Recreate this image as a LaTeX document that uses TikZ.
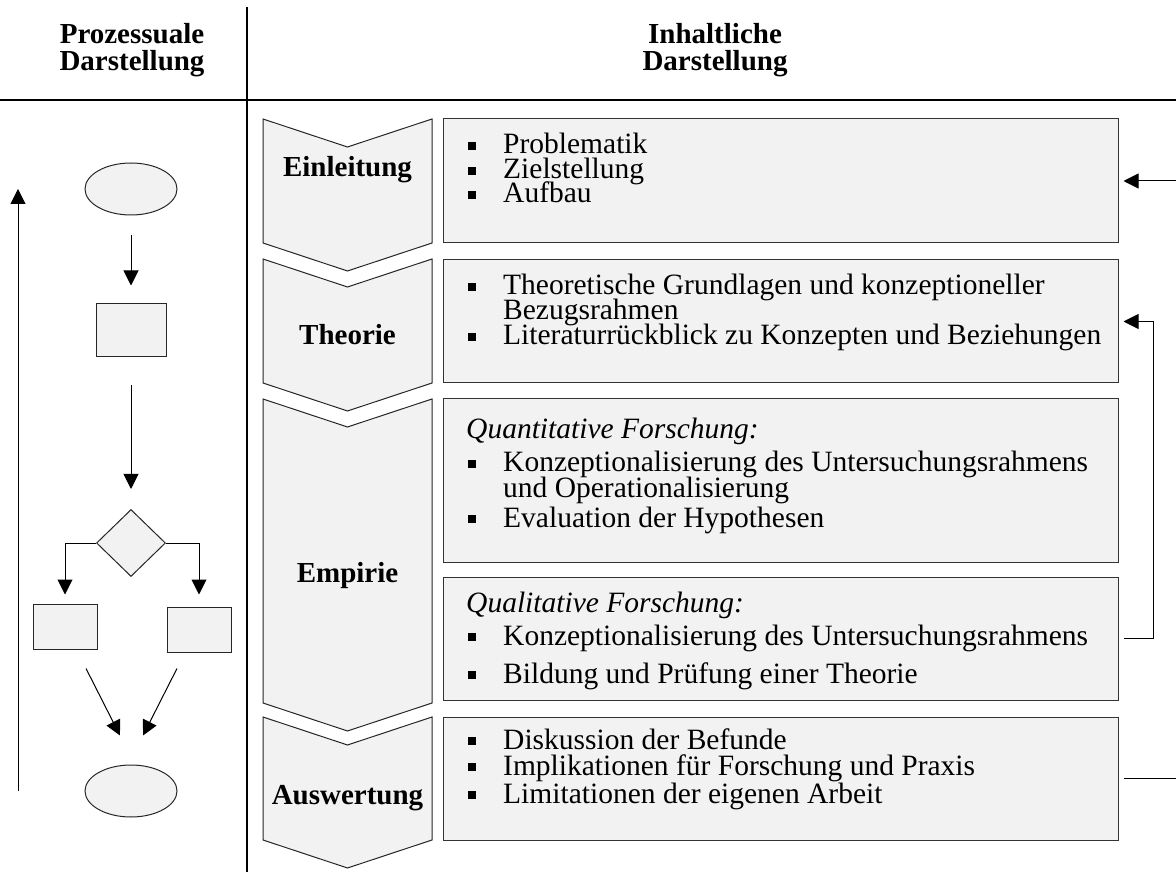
\documentclass[tikz,border=0pt]{standalone}
\usepackage{fontspec}
\setmainfont{Liberation Serif}
\usetikzlibrary{arrows.meta,shapes.geometric,calc,positioning}

\definecolor{boxgray}{HTML}{F2F2F2}

\begin{document}
\begin{tikzpicture}[x=1pt,y=-1pt,
    item/.style={font=\fontsize{29.5}{25}\selectfont, anchor=base west, inner sep=0pt,
      text height=18pt, text depth=5pt},
    head/.style={font=\fontsize{29}{25}\selectfont\bfseries, anchor=base, inner sep=0pt},
    bullet/.style={fill=black, minimum size=7.5pt, inner sep=0pt, yshift=8pt},
    chev/.style={draw=black!85, line width=1pt, fill=boxgray},
    infobox/.style={draw=black!80, line width=1pt, fill=boxgray, minimum width=675pt, inner sep=0pt},
    flowshape/.style={draw=black!85, line width=1pt, fill=boxgray, inner sep=0pt},
    arr/.style={line width=1pt, -{Triangle[length=15pt,width=15pt]}},
    con/.style={line width=1pt}
  ]
  \useasboundingbox (0,0) rectangle (1176,874);

  % header
  \node[head] (h1a) at (132,44) {Prozessuale};
  \node[head] (h1b) at (132,71) {Darstellung};
  \node[head] (h2a) at (715,44) {Inhaltliche};
  \node[head] (h2b) at (715,71) {Darstellung};
  \draw[line width=2pt] (0,100) -- (1176,100);
  \draw[line width=1.5pt] (247,7) -- (247,872);

  % chevrons
  \foreach \ya/\yb in {119/243, 259/383, 399/703, 717/840}
    \draw[chev] (263,\ya) -- (347.5,{\ya+28}) -- (432,\ya) -- (432,\yb)
      -- (347.5,{\yb+28}) -- (263,\yb) -- cycle;
  \node[head] (c1) at (347.5,177) {Einleitung};
  \node[head] (c2) at (347.5,345) {Theorie};
  \node[head] (c3) at (347.5,582) {Empirie};
  \node[head] (c4) at (347.5,804) {Auswertung};

  % content boxes
  \node[infobox, minimum height=124pt] (b1) at (780.5,181) {};
  \node[infobox, minimum height=123pt] (b2) at (780.5,321.5) {};
  \node[infobox, minimum height=163pt] (b3) at (780.5,480.5) {};
  \node[infobox, minimum height=123pt] (b4) at (780.5,638.5) {};
  \node[infobox, minimum height=123pt] (b5) at (780.5,778.5) {};

  \foreach \y [count=\i] in {154,179,203,295,345,472,527,645,683,749,775,803}
    \node[bullet] (dot\i) at (472,\y) {};
  \foreach \x/\y/\lab [count=\i] in {
      503/154/Problematik, 503/179/Zielstellung, 503/203/Aufbau,
      503/295/Theoretische Grundlagen und konzeptioneller,
      503/320/Bezugsrahmen,
      503/345/Literaturrückblick zu Konzepten und Beziehungen,
      466/439/{\itshape Quantitative Forschung:},
      503/472/Konzeptionalisierung des Untersuchungsrahmens,
      503/497/und Operationalisierung,
      503/527/Evaluation der Hypothesen,
      466/612/{\itshape Qualitative Forschung:},
      503/645/Konzeptionalisierung des Untersuchungsrahmens,
      503/683/Bildung und Prüfung einer Theorie,
      503/749/Diskussion der Befunde,
      503/775/Implikationen für Forschung und Praxis,
      503/803/Limitationen der eigenen Arbeit}
    \node[item] (line\i) at (\x,\y) {\lab};

  % feedback connectors
  \coordinate (inlet) at (1176,0);
  \draw[arr, shorten >=5pt] (inlet |- b1.east) -- (b1.east);
  \draw[arr, shorten >=5pt] ([xshift=5pt]b4.east) -- ++(30,0) |- (b2.east);
  \draw[con, shorten <=5pt] (b5.east) -- (inlet |- b5.east);

  % process flow
  \node[flowshape, ellipse, minimum width=92pt, minimum height=52pt] (start) at (131,189) {};
  \node[flowshape, minimum width=70pt, minimum height=53pt] (proc) at (131,330.5) {};
  \node[flowshape, diamond, minimum width=69pt, minimum height=67pt] (dec) at (131,543) {};
  \node[flowshape, minimum width=64pt, minimum height=45pt] (left) at (65,626.5) {};
  \node[flowshape, minimum width=64pt, minimum height=45pt] (right) at (199,629.5) {};
  \node[flowshape, ellipse, minimum width=92pt, minimum height=52pt] (stop) at (131,791) {};

  \draw[arr, shorten <=20pt, shorten >=18pt] (start) -- (proc);
  \draw[arr, shorten <=28pt, shorten >=20pt] (proc) -- (dec);
  \draw[arr, shorten >=9pt] (dec.west) -| (left.north);
  \draw[arr, shorten >=12pt] (dec.east) -| (right.north);
  \draw[arr] ($(left.south)+(21,19)$) -- ($(stop.north)+(-11,-29)$);
  \draw[arr] ($(right.south)+(-22,16)$) -- ($(stop.north)+(12,-29)$);

  \coordinate (loopx) at (18,0);
  \draw[arr] (loopx |- stop) -- (loopx |- start);
\end{tikzpicture}
\end{document}
